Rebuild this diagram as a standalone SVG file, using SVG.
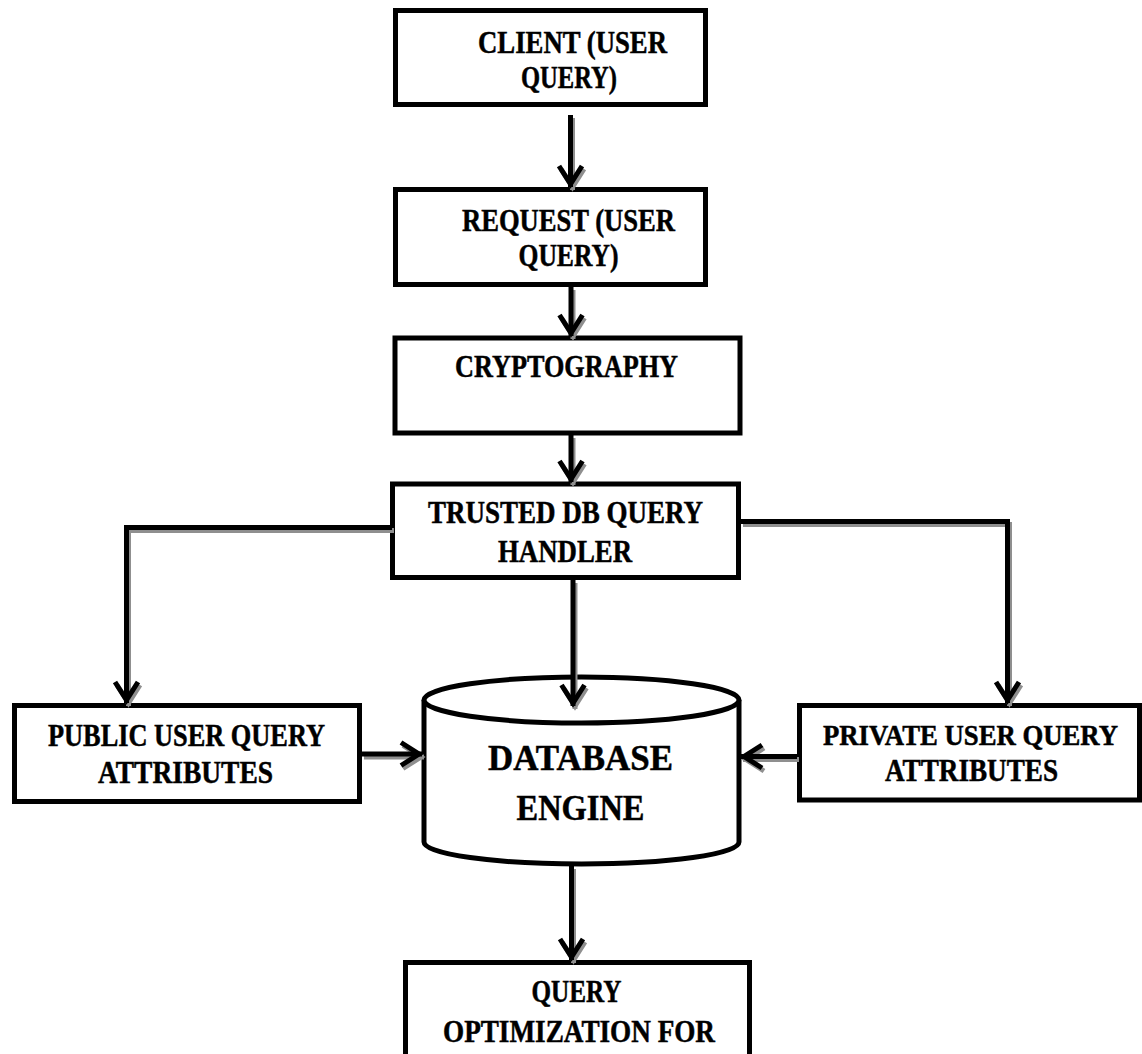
<svg xmlns="http://www.w3.org/2000/svg" width="1142" height="1054" viewBox="0 0 1142 1054">
<style>
.box{fill:#fff;stroke:#000;stroke-width:5}
.lbl{font-family:"Liberation Serif","Times New Roman",serif;font-weight:bold;font-size:31px;fill:#000;stroke:#000;stroke-width:0.5;text-anchor:middle}
.big{font-size:36px}
.sm{font-size:29px}
.con{fill:none;stroke:#000;stroke-width:5;marker-end:url(#ah)}
.sh{fill:none;stroke:#8f8f8f;stroke-width:5;marker-end:url(#ahs)}
</style>
<defs>
<marker id="ah" markerUnits="userSpaceOnUse" orient="auto" refX="0" refY="0" markerWidth="40" markerHeight="40" overflow="visible">
<path d="M-21,-11.5 L-3,0 L-21,11.5" fill="none" stroke="#000" stroke-width="5"/>
</marker>
<marker id="ahs" markerUnits="userSpaceOnUse" orient="auto" refX="0" refY="0" markerWidth="40" markerHeight="40" overflow="visible">
<path d="M-21,-11.5 L-3,0 L-21,11.5" fill="none" stroke="#8f8f8f" stroke-width="5"/>
</marker>
</defs>
<rect width="1142" height="1054" fill="#fff"/>

<g id="client">
<rect class="box" x="395.5" y="10.5" width="310" height="94"/>
<text class="lbl" x="572.5" y="53" textLength="189" lengthAdjust="spacingAndGlyphs">CLIENT (USER</text>
<text class="lbl" x="569" y="88" textLength="96" lengthAdjust="spacingAndGlyphs">QUERY)</text>
</g>
<g id="request">
<rect class="box" x="395.5" y="189.5" width="310" height="95"/>
<text class="lbl" x="568.5" y="230.5" textLength="213" lengthAdjust="spacingAndGlyphs">REQUEST (USER</text>
<text class="lbl" x="568.5" y="266" textLength="100" lengthAdjust="spacingAndGlyphs">QUERY)</text>
</g>
<g id="crypto">
<rect class="box" x="395" y="338" width="345" height="95"/>
<text class="lbl" x="566.5" y="377" textLength="223" lengthAdjust="spacingAndGlyphs">CRYPTOGRAPHY</text>
</g>
<g id="trusted">
<rect class="box" x="392.5" y="484" width="346" height="93.5"/>
<text class="lbl" x="565.5" y="523" textLength="275" lengthAdjust="spacingAndGlyphs">TRUSTED DB QUERY</text>
<text class="lbl" x="565" y="562" textLength="134" lengthAdjust="spacingAndGlyphs">HANDLER</text>
</g>
<g id="public">
<rect class="box" x="14.5" y="705.5" width="345" height="96"/>
<text class="lbl" x="186.5" y="746" textLength="277" lengthAdjust="spacingAndGlyphs">PUBLIC USER QUERY</text>
<text class="lbl" x="185.5" y="783" textLength="175" lengthAdjust="spacingAndGlyphs">ATTRIBUTES</text>
</g>
<g id="private">
<rect class="box" x="799.5" y="705.5" width="340" height="94.5"/>
<text class="lbl sm" x="970.5" y="745" textLength="295" lengthAdjust="spacingAndGlyphs">PRIVATE USER QUERY</text>
<text class="lbl" x="971.5" y="781" textLength="173" lengthAdjust="spacingAndGlyphs">ATTRIBUTES</text>
</g>
<g id="database">
<path class="box" d="M424,700 L424,842 A157.5,22 0 0 0 739,842 L739,700"/>
<ellipse class="box" cx="581.5" cy="700" rx="157.5" ry="23"/>
<text class="lbl big" x="580.5" y="770" textLength="185" lengthAdjust="spacingAndGlyphs">DATABASE</text>
<text class="lbl big" x="580.5" y="820" textLength="128" lengthAdjust="spacingAndGlyphs">ENGINE</text>
</g>
<g id="query">
<rect class="box" x="405.5" y="962.5" width="344" height="120"/>
<text class="lbl" x="576.5" y="1002" textLength="90" lengthAdjust="spacingAndGlyphs">QUERY</text>
<text class="lbl" x="579" y="1042" textLength="272" lengthAdjust="spacingAndGlyphs">OPTIMIZATION FOR</text>
</g>

<g id="connectors">
<g transform="translate(2,3)">
<path class="sh" d="M570.5,115 L570.5,187"/>
<path class="sh" d="M571,287 L571,336"/>
<path class="sh" d="M571,435 L571,482"/>
<path class="sh" d="M573,580 L573,706"/>
<path class="sh" d="M392,527.5 L126.5,527.5 L126.5,703"/>
<path class="sh" d="M741,521.5 L1007.5,521.5 L1007.5,703"/>
<path class="sh" d="M362,754 L422,754"/>
<path class="sh" d="M797,756.5 L741,756.5"/>
<path class="sh" d="M571.5,866 L571.5,960"/>
</g>
<path class="con" d="M570.5,115 L570.5,187"/>
<path class="con" d="M571,287 L571,336"/>
<path class="con" d="M571,435 L571,482"/>
<path class="con" d="M573,580 L573,706"/>
<path class="con" d="M392,527.5 L126.5,527.5 L126.5,703"/>
<path class="con" d="M741,521.5 L1007.5,521.5 L1007.5,703"/>
<path class="con" d="M362,754 L422,754"/>
<path class="con" d="M797,756.5 L741,756.5"/>
<path class="con" d="M571.5,866 L571.5,960"/>
</g>
</svg>
